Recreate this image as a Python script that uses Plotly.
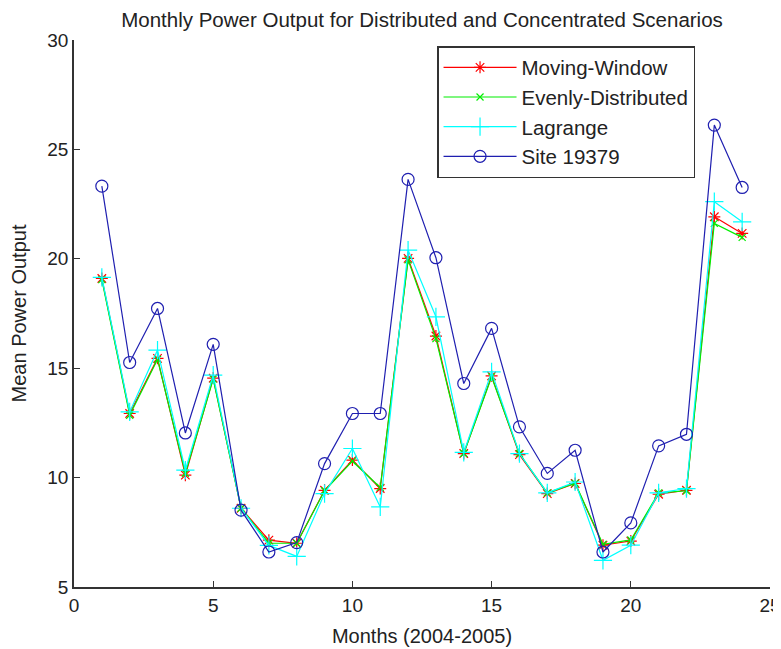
import plotly.graph_objects as go

months = list(range(1, 25))
moving_window = [19.1, 12.93, 15.45, 10.11, 14.55, 8.6, 7.14, 7.0, 9.42, 10.8, 9.5, 20.02,
                 16.47, 11.1, 14.65, 11.05, 9.27, 9.73, 6.91, 7.1, 9.24, 9.42, 21.92, 21.16]
evenly_distributed = [19.05, 12.85, 15.4, 10.2, 14.5, 8.6, 7.0, 7.0, 9.4, 10.75, 9.55, 19.95,
                      16.35, 11.1, 14.6, 11.1, 9.3, 9.75, 6.95, 7.15, 9.3, 9.4, 21.62, 20.98]
lagrange = [19.15, 13.0, 15.83, 10.34, 14.68, 8.6, 6.9, 6.4, 9.27, 11.33, 8.66, 20.4,
            17.35, 11.15, 14.83, 11.1, 9.3, 9.8, 6.22, 6.91, 9.3, 9.5, 22.61, 21.69]
site_19379 = [23.32, 15.26, 17.73, 12.04, 16.09, 8.51, 6.6, 7.03, 10.64, 12.93, 12.93, 23.63,
              20.05, 14.3, 16.82, 12.32, 10.19, 11.25, 6.6, 7.93, 11.45, 11.98, 26.11, 23.26]

series = [
    ("Moving-Window", moving_window, "#ff0000", "asterisk-open", 10),
    ("Evenly-Distributed", evenly_distributed, "#00ee00", "x-thin-open", 7),
    ("Lagrange", lagrange, "#00ffff", "cross-thin-open", 13),
    ("Site 19379", site_19379, "#1f1fb0", "circle-open", 12),
]

fig = go.Figure()
for i, (name, vals, color, sym, size) in enumerate(series):
    fig.add_trace(go.Scatter(
        x=months, y=vals, name=name, mode="lines+markers",
        line=dict(color=color, width=1.2),
        marker=dict(symbol=sym, size=size, color=color, line=dict(color=color, width=1.2)),
        legendgroup=f"g{i}",
    ))

font_family = "Liberation Sans, Arial, sans-serif"
# the page body has an 8px margin, so the figure is 8px smaller and margins are compensated
fig.update_layout(
    width=773, height=641,
    margin=dict(l=66, r=11, t=32, b=62),
    paper_bgcolor="white", plot_bgcolor="white",
    title=dict(text="Monthly Power Output for Distributed and Concentrated Scenarios",
               xref="paper", x=0.5, xanchor="center", y=0.982, yanchor="middle",
               font=dict(family=font_family, size=20.5, color="#222")),
    font=dict(family=font_family, color="#222"),
    xaxis=dict(range=[0, 25], tickvals=[0, 5, 10, 15, 20, 25], ticks="inside", ticklen=6,
               showline=True, linecolor="#333", linewidth=1.5, tickcolor="#333", mirror=False,
               showgrid=False, zeroline=False, automargin=False,
               tickfont=dict(size=19), title=dict(text="Months (2004-2005)", font=dict(size=20), standoff=14)),
    yaxis=dict(range=[5, 30], tickvals=[5, 10, 15, 20, 25, 30], ticks="inside", ticklen=6,
               showline=True, linecolor="#333", linewidth=1.5, tickcolor="#333", mirror=False,
               showgrid=False, zeroline=False, automargin=False,
               tickfont=dict(size=19), title=dict(text="Mean Power Output", font=dict(size=20), standoff=16)),
    legend=dict(x=0.5216, y=0.989, xanchor="left", yanchor="top",
                bordercolor="#333", borderwidth=1.5, bgcolor="white",
                font=dict(size=20.5, color="#222"), tracegroupgap=0,
                itemwidth=73),
)

fig.write_html("out.html")
